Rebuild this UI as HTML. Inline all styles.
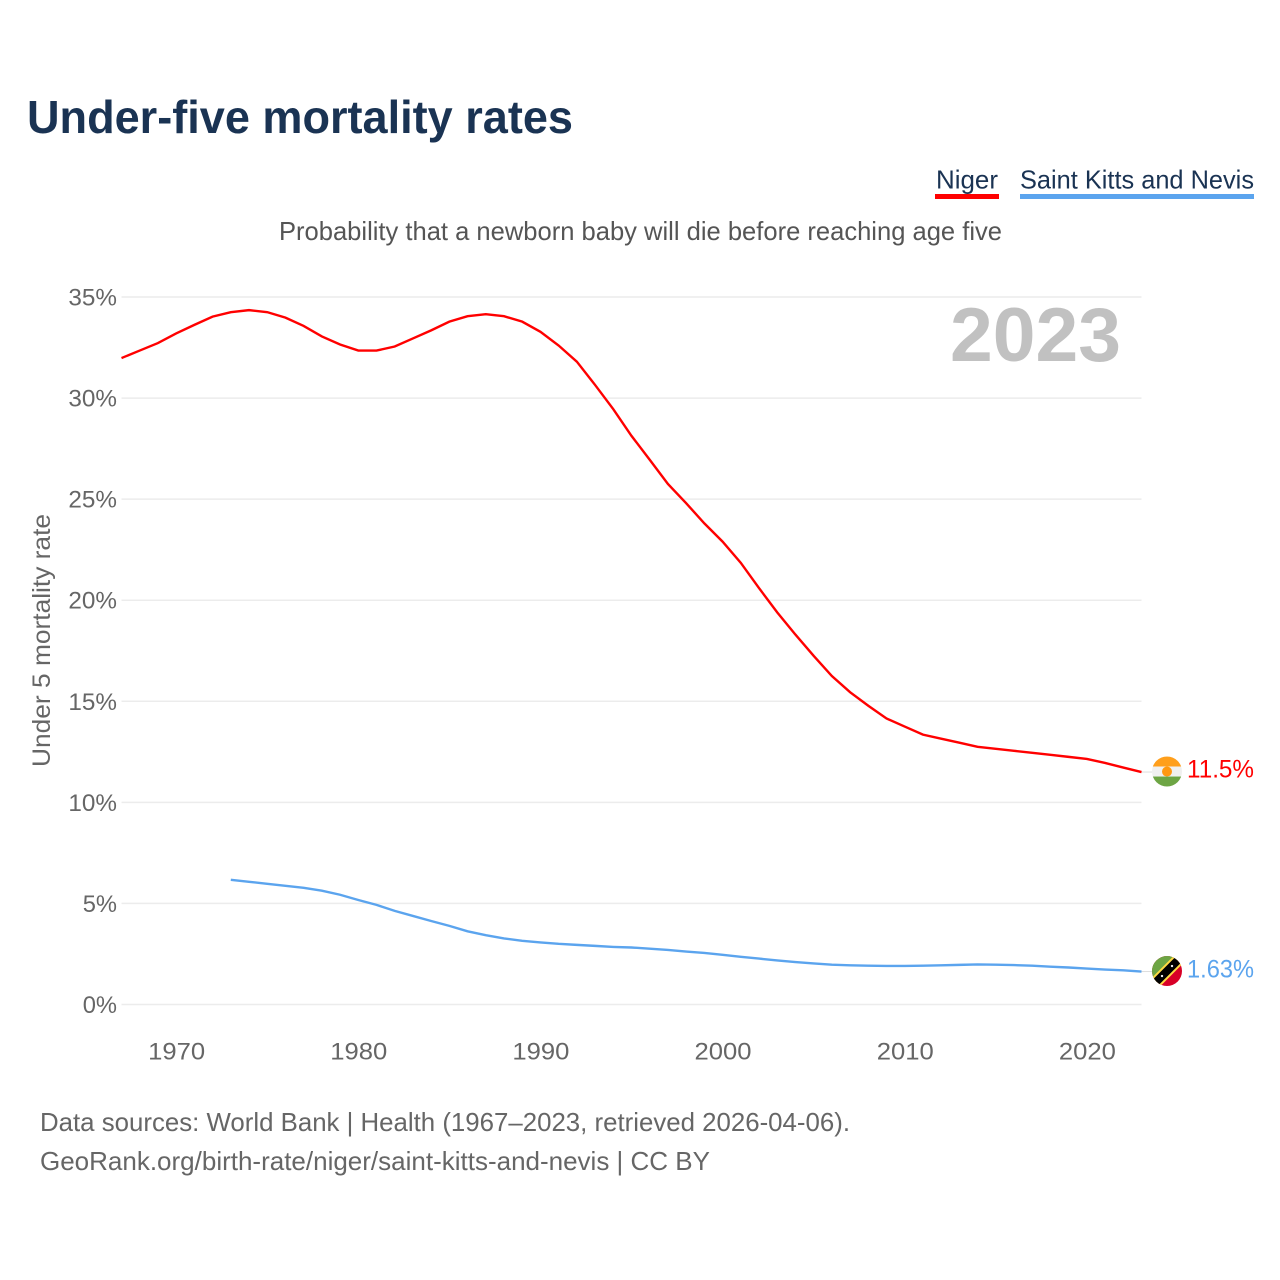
<!DOCTYPE html>
<html lang="en">
<head>
<meta charset="utf-8">
<title>Under-five mortality rates</title>
<style>
html,body{margin:0;padding:0;background:#fff;width:1280px;height:1280px;overflow:hidden}
svg{display:block}
text{font-family:"Liberation Sans",sans-serif}
</style>
</head>
<body>
<svg id="chart" xmlns="http://www.w3.org/2000/svg" width="1280" height="1280" viewBox="0 0 1280 1280">
  <defs>
    <clipPath id="flag-clip"><circle cx="0" cy="0" r="15"/></clipPath>
  </defs>
  <text x="27" y="133" font-size="46" font-weight="700" fill="#1a3353" textLength="546" lengthAdjust="spacingAndGlyphs">Under-five mortality rates</text>

  <g>
    <text x="936" y="188.5" font-size="26" fill="#1a3353" textLength="62" lengthAdjust="spacingAndGlyphs">Niger</text>
    <rect x="935" y="194" width="64" height="5" fill="#ff0000"/>
  </g>
  <g>
    <text x="1020" y="188.5" font-size="26" fill="#1a3353" textLength="234" lengthAdjust="spacingAndGlyphs">Saint Kitts and Nevis</text>
    <rect x="1020" y="194" width="234" height="5" fill="#5ba4ee"/>
  </g>

  <text x="279" y="240" font-size="26" fill="#555" textLength="723" lengthAdjust="spacingAndGlyphs">Probability that a newborn baby will die before reaching age five</text>

  <g id="grid"></g>
  <g id="y-ticks"></g>
  <g id="x-ticks"></g>

  <text transform="translate(50 640.5) rotate(-90)" text-anchor="middle" font-size="25" fill="#666" textLength="253" lengthAdjust="spacingAndGlyphs">Under 5 mortality rate</text>

  <text id="year-label" x="950" y="361" font-size="76" font-weight="700" fill="#c1c1c1" textLength="171" lengthAdjust="spacingAndGlyphs">2023</text>

  <g id="series"></g>

  <g id="flag-niger">
    <g clip-path="url(#flag-clip)">
      <rect x="-15" y="-15" width="30" height="10" fill="#ff9f1c"/>
      <rect x="-15" y="-5" width="30" height="10" fill="#f0f0f0"/>
      <rect x="-15" y="5" width="30" height="10" fill="#6da544"/>
      <circle cx="0" cy="0" r="5" fill="#ff9811"/>
    </g>
  </g>
  <g id="flag-skn">
    <g clip-path="url(#flag-clip)">
      <rect x="-15" y="-15" width="30" height="30" fill="#d80027"/>
      <polygon points="-15,-15 15,-15 -15,15" fill="#6da544"/>
      <line x1="-13" y1="13" x2="13" y2="-13" stroke="#ffda44" stroke-width="12"/>
      <line x1="-13" y1="13" x2="13" y2="-13" stroke="#000" stroke-width="8"/>
      <circle cx="-5" cy="5" r="1.2" fill="#f0f0f0"/>
      <circle cx="5" cy="-5" r="1.2" fill="#f0f0f0"/>
    </g>
  </g>

  <text id="value-niger" x="1187" font-size="25" fill="#ff0000" textLength="67" lengthAdjust="spacingAndGlyphs"></text>
  <text id="value-skn" x="1187" font-size="25" fill="#5ba4ee" textLength="67" lengthAdjust="spacingAndGlyphs"></text>

  <text x="40" y="1131" font-size="26" fill="#666" textLength="810" lengthAdjust="spacingAndGlyphs">Data sources: World Bank | Health (1967–2023, retrieved 2026-04-06).</text>
  <text x="40" y="1170" font-size="26" fill="#666" textLength="670" lengthAdjust="spacingAndGlyphs">GeoRank.org/birth-rate/niger/saint-kitts-and-nevis | CC BY</text>
</svg>

<script>
const yTickValues = [0, 5, 10, 15, 20, 25, 30, 35];
const xTickYears = [1970, 1980, 1990, 2000, 2010, 2020];
const nigerStartYear = 1967;
const nigerValues = [
  31.98, 32.35, 32.72, 33.2, 33.62, 34.03, 34.25, 34.35, 34.25, 33.98,
  33.57, 33.05, 32.65, 32.35, 32.35, 32.55, 32.95, 33.35, 33.78, 34.05,
  34.15, 34.05, 33.78, 33.28, 32.6, 31.8, 30.65, 29.45, 28.13, 26.95,
  25.75, 24.8, 23.8, 22.9, 21.85, 20.6, 19.4, 18.3, 17.25, 16.25,
  15.45, 14.78, 14.15, 13.75, 13.35, 13.15, 12.95, 12.75, 12.65, 12.55,
  12.45, 12.35, 12.25, 12.15, 11.95, 11.72, 11.5
];
const sknStartYear = 1973;
const sknValues = [
  6.17, 6.07, 5.97, 5.87, 5.77, 5.63, 5.43, 5.17, 4.93, 4.63,
  4.38, 4.13, 3.89, 3.62, 3.43, 3.27, 3.15, 3.07, 3.0, 2.95,
  2.9, 2.85, 2.82, 2.76, 2.7, 2.62, 2.55, 2.46, 2.36, 2.27,
  2.18, 2.1, 2.03, 1.97, 1.94, 1.92, 1.91, 1.91, 1.92, 1.94,
  1.96, 1.98, 1.97, 1.95, 1.92, 1.87, 1.83, 1.78, 1.73, 1.69, 1.63
];
const nigerValueLabel = '11.5%';
const sknValueLabel = '1.63%';

const xScale = year => 121.5 + (year - 1967) * (1141.5 - 121.5) / (2023 - 1967);
const yScale = value => 1004.5 - value * (1004.5 - 297) / 35;
const NS = 'http://www.w3.org/2000/svg';

const grid = document.getElementById('grid');
const yTicks = document.getElementById('y-ticks');
yTickValues.forEach(v => {
  const line = document.createElementNS(NS, 'line');
  
  
  line.setAttribute('x1', 121.5);
  line.setAttribute('x2', 1141.5);
  line.setAttribute('y1', yScale(v));
  line.setAttribute('y2', yScale(v));
  line.setAttribute('stroke', '#ececec');
  line.setAttribute('stroke-width', 1.5);
  grid.appendChild(line);

  const label = document.createElementNS(NS, 'text');
  
  
  label.setAttribute('x', 117);
  label.setAttribute('y', yScale(v) + 8.5);
  label.setAttribute('text-anchor', 'end');
  label.setAttribute('font-size', 24);
  label.setAttribute('fill', '#666');
  label.textContent = v + '%';
  label.setAttribute('textLength', String(v).length * 14.3 + 20);
  label.setAttribute('lengthAdjust', 'spacingAndGlyphs');
  yTicks.appendChild(label);
});

const xTicks = document.getElementById('x-ticks');
xTickYears.forEach(year => {
  const label = document.createElementNS(NS, 'text');
  
  
  label.setAttribute('x', xScale(year) + 0.5);
  label.setAttribute('y', 1059.5);
  label.setAttribute('text-anchor', 'middle');
  label.setAttribute('font-size', 24);
  label.setAttribute('fill', '#666');
  label.setAttribute('textLength', 57);
  label.setAttribute('lengthAdjust', 'spacingAndGlyphs');
  label.textContent = year;
  xTicks.appendChild(label);
});

const seriesGroup = document.getElementById('series');
function pathFor(startYear, values) {
  return values.map((v, i) => (i ? 'L' : 'M') + xScale(startYear + i).toFixed(2) + ' ' + yScale(v).toFixed(2)).join(' ');
}
const nigerPath = document.createElementNS(NS, 'path');


nigerPath.setAttribute('d', pathFor(nigerStartYear, nigerValues));
nigerPath.setAttribute('fill', 'none');
nigerPath.setAttribute('stroke', '#ff0000');
nigerPath.setAttribute('stroke-width', 2.4);
seriesGroup.appendChild(nigerPath);

const sknPath = document.createElementNS(NS, 'path');


sknPath.setAttribute('d', pathFor(sknStartYear, sknValues));
sknPath.setAttribute('fill', 'none');
sknPath.setAttribute('stroke', '#5ba4ee');
sknPath.setAttribute('stroke-width', 2.4);
seriesGroup.appendChild(sknPath);

const nigerLast = yScale(nigerValues[nigerValues.length - 1]);
const sknLast = yScale(sknValues[sknValues.length - 1]);

const nigerConnector = document.createElementNS(NS, 'line');


nigerConnector.setAttribute('x1', 1141.5);
nigerConnector.setAttribute('x2', 1152);
nigerConnector.setAttribute('y1', nigerLast);
nigerConnector.setAttribute('y2', nigerLast);
nigerConnector.setAttribute('stroke', '#ddd');
nigerConnector.setAttribute('stroke-width', 1);
seriesGroup.appendChild(nigerConnector);

const sknConnector = document.createElementNS(NS, 'line');


sknConnector.setAttribute('x1', 1141.5);
sknConnector.setAttribute('x2', 1152);
sknConnector.setAttribute('y1', sknLast);
sknConnector.setAttribute('y2', sknLast);
sknConnector.setAttribute('stroke', '#ddd');
sknConnector.setAttribute('stroke-width', 1);
seriesGroup.appendChild(sknConnector);

document.getElementById('flag-niger').setAttribute('transform', 'translate(1167 ' + (nigerLast - 0.5) + ')');
document.getElementById('flag-skn').setAttribute('transform', 'translate(1167 ' + (sknLast - 0.5) + ')');

const nigerValueText = document.getElementById('value-niger');
nigerValueText.setAttribute('y', nigerLast + 5.5);
nigerValueText.textContent = nigerValueLabel;
const sknValueText = document.getElementById('value-skn');
sknValueText.setAttribute('y', sknLast + 6);
sknValueText.textContent = sknValueLabel;
</script>
</body>
</html>
